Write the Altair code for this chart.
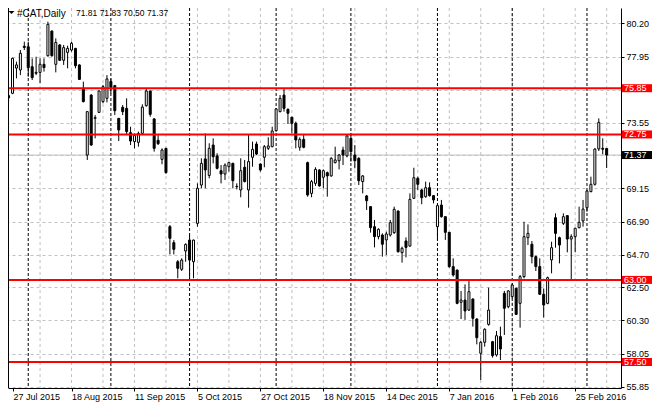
import altair as alt
import pandas as pd

opens = [75.35,75.51,77.20,77.07,78.66,78.63,77.29,76.85,76.91,77.45,78.03,79.68,77.45,78.75,77.72,78.25,78.41,78.52,77.41,75.84,
         71.37,75.39,73.83,74.23,74.95,75.17,76.30,76.02,73.83,74.57,74.50,72.87,72.27,72.22,72.82,74.68,75.66,73.79,72.36,71.08,
         71.82,66.57,65.50,64.22,63.71,64.94,65.67,64.22,66.79,69.36,71.11,70.00,72.04,71.31,70.32,70.10,70.59,70.81,69.27,69.03,
         70.55,69.03,71.22,72.11,70.77,71.22,71.82,71.93,73.00,74.28,75.39,74.43,73.90,73.50,71.89,72.42,70.86,68.80,69.47,70.37,
         69.88,70.19,69.97,70.86,70.99,71.71,71.31,72.49,71.37,71.15,69.59,68.63,67.91,66.57,65.90,66.01,65.68,66.01,66.17,67.62,
         64.83,65.61,65.27,68.47,69.81,69.03,68.58,69.18,68.65,66.57,68.02,67.24,66.19,63.89,63.66,61.50,61.65,60.98,61.72,60.38,
         58.08,58.82,60.02,58.86,57.97,59.20,62.10,61.21,61.88,62.44,61.43,63.22,65.83,65.39,64.56,63.89,62.04,61.43,64.34,67.17,
         65.83,66.79,67.31,65.74,65.90,66.50,66.95,67.84,68.92,69.41,71.78,71.82,71.81]
highs = [75.73,77.90,77.63,78.41,78.97,78.97,77.85,77.96,77.85,77.85,80.31,79.72,79.19,78.80,78.75,78.70,78.97,78.55,77.45,76.29,
         74.30,75.45,74.05,75.70,76.07,76.73,76.50,76.07,73.85,74.72,75.17,73.27,72.82,72.94,74.77,75.84,75.70,73.85,72.71,71.82,
         71.85,66.68,65.67,64.33,64.45,65.45,66.01,65.70,69.47,71.15,72.82,72.16,72.49,71.49,70.70,70.81,70.93,70.86,69.47,71.15,
         71.04,72.71,72.27,72.27,70.81,72.04,72.56,73.27,74.50,75.39,75.84,74.50,73.94,73.61,72.56,72.71,70.93,69.70,70.55,70.41,
         70.41,70.26,71.22,71.93,71.44,71.93,72.71,72.83,72.04,71.22,70.03,68.69,67.95,67.02,66.46,66.12,66.23,67.02,67.91,67.65,
         65.23,65.85,68.80,70.52,69.92,69.09,69.59,69.54,68.69,68.07,68.36,67.24,66.20,64.45,63.70,62.26,62.70,62.93,61.77,60.43,
         58.91,59.76,62.48,58.91,59.58,59.87,62.26,62.32,62.77,62.48,63.33,66.90,66.72,65.61,64.63,64.45,62.43,63.22,65.56,67.46,
         65.90,67.46,67.31,66.06,66.50,67.91,68.36,69.03,69.92,71.82,73.83,72.49,71.83]
lows = [74.84,75.45,76.51,76.73,78.41,76.62,76.40,76.73,76.18,76.96,77.96,77.96,76.91,77.67,77.41,77.18,78.30,77.18,76.40,74.90,
        71.04,72.00,72.49,74.19,74.84,74.90,75.50,74.05,72.31,74.05,72.71,72.04,71.82,71.93,72.71,74.61,73.94,71.60,72.04,70.75,
        70.12,64.71,64.71,63.11,63.60,64.22,63.05,63.11,66.57,69.14,69.14,69.81,70.81,70.41,69.47,69.70,70.26,69.14,69.07,68.54,
        69.54,67.84,70.59,71.37,70.26,70.55,71.71,71.89,72.94,74.23,74.28,73.45,72.83,71.82,71.66,71.82,68.58,68.54,69.30,69.25,
        69.14,68.58,69.92,70.81,70.41,70.70,71.22,70.93,70.48,69.36,68.80,67.69,66.17,65.18,65.72,64.56,64.67,65.90,66.08,64.83,
        64.16,64.51,65.23,68.42,69.03,68.07,68.51,68.58,68.13,65.74,67.17,65.68,63.82,63.22,61.37,60.38,60.32,60.92,59.87,58.68,
        56.29,58.53,59.93,57.79,57.86,57.63,59.31,61.10,61.77,60.65,59.80,63.11,65.34,64.11,63.60,61.99,60.47,61.37,63.44,65.16,
        64.11,66.68,64.85,63.06,64.85,66.46,66.57,67.57,68.87,69.32,71.64,71.42,70.50]
closes = [75.20,77.85,77.41,78.19,78.58,77.23,76.56,76.91,77.45,77.23,80.13,78.03,78.92,77.72,78.57,78.52,78.86,77.36,76.44,74.95,
          74.28,72.04,73.88,75.66,75.95,76.47,75.90,74.34,73.05,74.28,72.94,72.31,72.67,72.82,74.59,75.66,74.10,71.82,72.13,71.71,
          70.19,65.79,65.05,63.78,64.33,65.38,64.33,65.67,69.14,70.81,70.37,71.82,71.26,70.48,70.10,70.70,70.86,69.65,69.25,70.32,
          69.59,70.93,71.75,71.44,70.37,71.93,71.98,72.98,74.46,75.17,74.50,74.17,73.50,72.38,72.42,71.89,68.69,69.59,70.41,69.30,
          70.32,69.97,71.15,71.04,71.37,71.37,72.65,71.60,70.99,69.65,69.97,68.31,66.50,65.90,66.39,65.39,66.08,66.84,67.73,64.89,
          65.12,65.18,68.40,69.85,69.41,68.51,69.18,68.65,68.36,67.98,67.24,66.19,63.89,63.33,61.43,61.65,60.92,62.21,60.43,59.13,
          58.82,59.69,60.98,57.92,59.26,58.37,61.10,62.26,62.66,60.69,63.22,65.90,66.12,64.56,63.89,62.04,61.32,63.15,65.16,66.12,
          65.34,67.24,65.74,65.90,66.46,66.86,67.75,68.96,69.41,71.77,73.56,71.76,71.37]

date_labels = ["27 Jul 2015", "18 Aug 2015", "11 Sep 2015", "5 Oct 2015", "27 Oct 2015",
               "18 Nov 2015", "14 Dec 2015", "7 Jan 2016", "1 Feb 2016", "25 Feb 2016"]
label_bars = [1.125, 16, 32, 48, 64, 80, 96, 112, 128, 144]
grid_bars = list(range(8, 153, 8))
month_starts = [5, 26, 46, 68, 87, 109, 128, 147]
price_ticks = [55.85, 58.05, 60.30, 62.50, 64.70, 66.90, 69.15, 71.35, 73.55, 75.75, 77.95, 80.20]
hidden_ticks = [71.35, 75.75]
levels = [75.85, 72.75, 63.00, 57.50]
last_price = [71.37]
symbol = "#CAT,Daily"
ohlc_text = "71.81 71.83 70.50 71.37"

df = pd.DataFrame({"i": list(range(len(opens))), "open": opens, "high": highs,
                   "low": lows, "close": closes})

FONT = "Liberation Sans"
NUM = 9
W, H = 613, 380
xs = alt.Scale(domain=[1.125, 154.375], nice=False, zero=False)
ys = alt.Scale(domain=[55.756, 81.2255], nice=False, zero=False)

label_js = "[" + ",".join("'%s'" % t for t in date_labels) + "]"
xaxis = alt.Axis(values=label_bars, labelExpr=label_js + "[round(datum.value/16)]",
                 grid=False, tickSize=3, tickColor="black", domainColor="black",
                 labelColor="black", labelFont=FONT, labelFontSize=NUM, labelAlign="left",
                 labelBaseline="top", labelPadding=1, labelFlush=False, labelOverlap=False,
                 labelBound=False, title=None)
hid_js = " || ".join("abs(datum.value-%s)<0.001" % v for v in hidden_ticks)
yaxis = alt.Axis(values=price_ticks, orient="right", grid=True, gridColor="#c0c0c0",
                 gridDash=[3, 3], gridWidth=1, tickSize=3, tickColor="black",
                 domainColor="black", labelColor="black", labelFont=FONT, labelFontSize=NUM,
                 labelPadding=2, labelOverlap=False, labelFlush=False, labelBound=False,
                 labelExpr="(" + hid_js + ") ? '' : format(datum.value, '.2f')", title=None)

X = alt.X("i:Q", scale=xs, axis=xaxis)

base = alt.Chart(df)

vgrid = alt.Chart(pd.DataFrame({"i": grid_bars})).mark_rule(
    color="#c0c0c0", strokeDash=[3, 3], strokeWidth=1).encode(x=X)
seps = alt.Chart(pd.DataFrame({"i": month_starts})).mark_rule(
    color="black", strokeDash=[3, 2], strokeWidth=1).encode(x=X)
lastline = alt.Chart(pd.DataFrame({"price": last_price})).mark_rule(
    color="#c0c0c0", strokeWidth=1).encode(y=alt.Y("price:Q", scale=ys, axis=yaxis))

wicks = base.mark_rule(color="black", strokeWidth=1).encode(
    x=X, y=alt.Y("low:Q", scale=ys, axis=yaxis), y2="high:Q")
bodies = base.mark_bar(width=2, stroke="black", strokeWidth=1).encode(
    x=X, y=alt.Y("open:Q", scale=ys, axis=yaxis), y2="close:Q",
    fill=alt.condition("datum.close >= datum.open", alt.value("white"), alt.value("black")))

lev_df = pd.DataFrame({"price": levels})
levlines = alt.Chart(lev_df).mark_rule(color="#ff0000", strokeWidth=2).encode(
    y=alt.Y("price:Q", scale=ys, axis=yaxis))
levbox = alt.Chart(lev_df).mark_rule(color="#ff0000", strokeWidth=8).encode(
    y=alt.Y("price:Q", scale=ys, axis=yaxis), x=alt.value(614), x2=alt.value(644))
levtext = alt.Chart(lev_df).mark_text(color="white", font=FONT, fontSize=NUM, align="left",
                                      baseline="middle").encode(
    y=alt.Y("price:Q", scale=ys, axis=yaxis), x=alt.value(616),
    text=alt.Text("price:Q", format=".2f"))

last_df = pd.DataFrame({"price": last_price})
lastbox = alt.Chart(last_df).mark_rule(color="black", strokeWidth=8).encode(
    y=alt.Y("price:Q", scale=ys, axis=yaxis), x=alt.value(614), x2=alt.value(644))
lasttext = alt.Chart(last_df).mark_text(color="white", font=FONT, fontSize=NUM, align="left",
                                        baseline="middle").encode(
    y=alt.Y("price:Q", scale=ys, axis=yaxis), x=alt.value(616),
    text=alt.Text("price:Q", format=".2f"))

# left border of the price frame
border = alt.Chart(pd.DataFrame({"b": [0]})).mark_rule(color="black", strokeWidth=1).encode(
    x=alt.value(0.5), y=alt.value(0), y2=alt.value(H))

title_df = pd.DataFrame({"t": [symbol], "o": [ohlc_text]})
tri = alt.Chart(title_df).mark_point(
    shape="M-1,-0.5L1,-0.5L0,0.5Z", filled=True, color="black", size=36, opacity=1).encode(
    x=alt.value(3.5), y=alt.value(4.5))
ttl1 = alt.Chart(title_df).mark_text(font=FONT, fontSize=10, align="left", baseline="top",
                                     color="black").encode(
    x=alt.value(9), y=alt.value(0.5), text="t:N")
ttl2 = alt.Chart(title_df).mark_text(font=FONT, fontSize=8.5, align="left", baseline="top",
                                     color="black").encode(
    x=alt.value(68), y=alt.value(1), text="o:N")

chart = alt.layer(vgrid, seps, lastline, wicks, bodies, levlines, levbox, levtext,
                  lastbox, lasttext, border, tri, ttl1, ttl2).properties(
    width=W, height=H, background="white",
    autosize=alt.AutoSizeParams(type="none"),
    padding={"left": 0, "top": 0, "right": 31, "bottom": 14}
).configure_view(stroke=None)

chart.save("out.html", embed_options={"renderer": "svg", "actions": False})
